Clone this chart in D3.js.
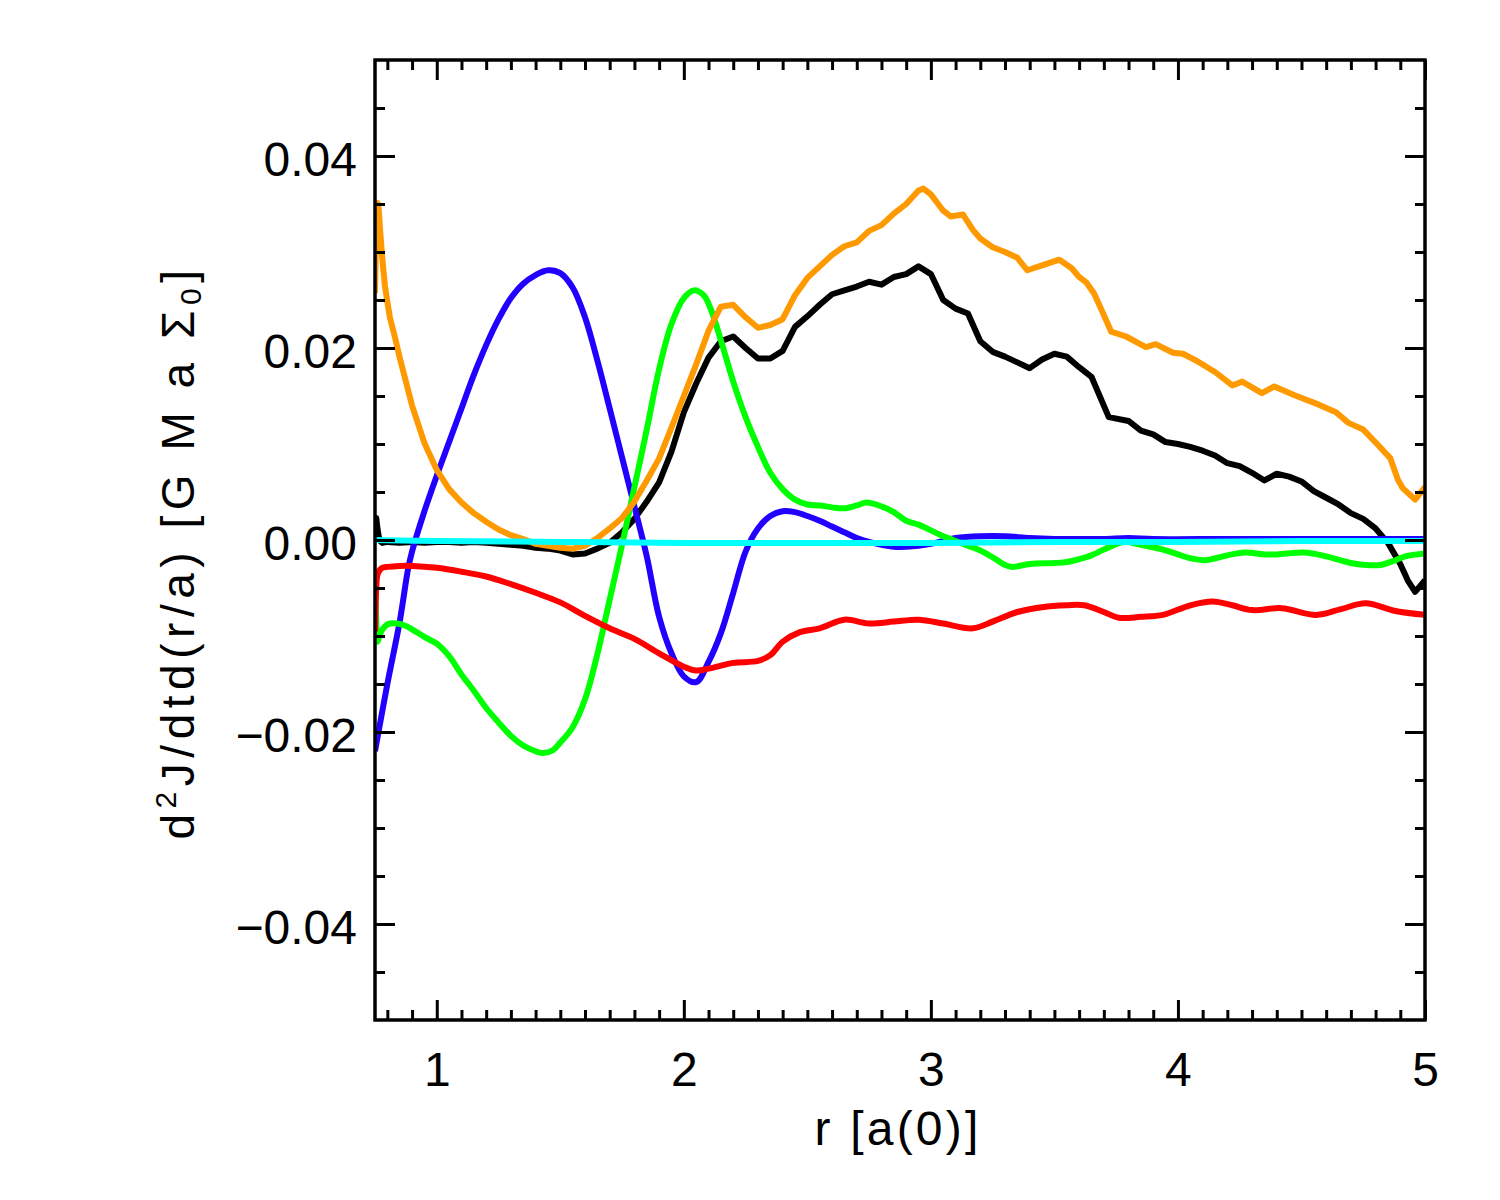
<!DOCTYPE html>
<html><head><meta charset="utf-8">
<script src="https://cdn.jsdelivr.net/npm/d3@7"></script>
<style>body{margin:0;background:#fff}</style>
</head><body>
<svg id="c" width="1500" height="1200"></svg>
<script>
// ---------- data ----------
const xDomain = [0.75, 5];
const yDomain = [-0.05, 0.05];
const xMajor = [1, 2, 3, 4, 5];
const xTickLabels = ["1", "2", "3", "4", "5"];
const yMajor = [-0.04, -0.02, 0, 0.02, 0.04];
const yTickLabels = ["\u22120.04", "\u22120.02", "0.00", "0.02", "0.04"];
const xTitle = "r [a(0)]";

const blackR = [0.75,0.755,0.76,0.765,0.77,0.78,0.8,0.85,0.9,0.95,1.0,1.05,1.1,1.15,1.2,1.25,1.3,1.35,1.4,1.45,1.5,1.55,1.6,1.65,1.7,1.75,1.8,1.85,1.9,1.95,2.0,2.05,2.1,2.15,2.2,2.25,2.3,2.35,2.4,2.45,2.5,2.55,2.6,2.65,2.7,2.75,2.8,2.85,2.9,2.95,3.0,3.05,3.1,3.15,3.2,3.25,3.3,3.35,3.4,3.45,3.5,3.55,3.6,3.65,3.7,3.72,3.8,3.85,3.9,3.95,4.0,4.05,4.1,4.15,4.2,4.25,4.3,4.35,4.4,4.45,4.5,4.55,4.6,4.65,4.7,4.75,4.8,4.85,4.9,4.93,4.96,5.0];
const blackY = [0.0005,0.0023,0.0012,0.0004,-0.0001,-0.0003,-0.0002,-0.0003,-0.0002,-0.0003,-0.0002,-0.0002,-0.0003,-0.0002,-0.0003,-0.0004,-0.0005,-0.0006,-0.0008,-0.0009,-0.0011,-0.0015,-0.0014,-0.0009,-0.0003,0.0008,0.0022,0.0040,0.0060,0.0092,0.0133,0.0163,0.0190,0.0207,0.0212,0.0200,0.0189,0.0189,0.0197,0.0222,0.0233,0.0245,0.0256,0.0260,0.0264,0.0269,0.0266,0.0274,0.0277,0.0285,0.0277,0.0250,0.0241,0.0236,0.0207,0.0196,0.0191,0.0185,0.0179,0.0188,0.0194,0.0191,0.0180,0.0170,0.0140,0.0128,0.0124,0.0114,0.0110,0.0102,0.0100,0.0097,0.0093,0.0088,0.0080,0.0077,0.0070,0.0062,0.0069,0.0066,0.0061,0.0051,0.0044,0.0037,0.0028,0.0022,0.0012,-0.0003,-0.0025,-0.0042,-0.0054,-0.0042];

const blueR = [0.75,0.8,0.85,0.884,0.9,0.95,1.0,1.05,1.1,1.15,1.2,1.25,1.3,1.35,1.4,1.45,1.5,1.55,1.6,1.65,1.7,1.75,1.8,1.85,1.9,1.95,2.0,2.05,2.1,2.15,2.2,2.25,2.3,2.35,2.4,2.45,2.5,2.55,2.6,2.65,2.7,2.75,2.8,2.85,2.9,2.95,3.0,3.05,3.1,3.2,3.3,3.4,3.5,3.6,3.7,3.8,3.9,4.2,4.6,5.0];
const blueY = [-0.0220,-0.0150,-0.0085,-0.0030,-0.0012,0.0030,0.0067,0.0102,0.0137,0.0172,0.0203,0.0230,0.0252,0.0267,0.0276,0.0281,0.0278,0.0263,0.0232,0.0187,0.0137,0.0086,0.0035,-0.0017,-0.0080,-0.0118,-0.0142,-0.0148,-0.0127,-0.0097,-0.0055,-0.0012,0.0012,0.0025,0.0030,0.0029,0.0025,0.0020,0.0014,0.0008,0.0002,-0.0002,-0.0005,-0.0007,-0.0007,-0.0006,-0.0004,-0.0001,0.0002,0.0004,0.0004,0.0002,0.0001,0.0001,0.0001,0.0002,0.0001,0.0001,0.0001,0.0001];

const greenR = [0.75,0.755,0.76,0.77,0.79,0.81,0.84,0.87,0.9,0.95,1.0,1.05,1.1,1.15,1.2,1.25,1.3,1.35,1.4,1.43,1.47,1.5,1.55,1.6,1.65,1.7,1.75,1.8,1.85,1.9,1.95,2.0,2.04,2.08,2.11,2.15,2.2,2.25,2.3,2.35,2.4,2.45,2.5,2.55,2.6,2.65,2.7,2.74,2.8,2.85,2.9,2.95,3.0,3.05,3.1,3.15,3.2,3.25,3.3,3.33,3.4,3.5,3.55,3.6,3.65,3.7,3.78,3.85,3.94,4.0,4.05,4.11,4.2,4.27,4.35,4.4,4.51,4.6,4.7,4.76,4.82,4.87,4.92,5.0];
const greenY = [-0.0045,-0.0085,-0.0106,-0.0098,-0.0090,-0.0087,-0.0087,-0.0089,-0.0093,-0.0101,-0.0108,-0.0121,-0.0140,-0.0157,-0.0175,-0.0190,-0.0204,-0.0214,-0.0220,-0.0222,-0.0219,-0.0211,-0.0195,-0.0166,-0.0119,-0.0062,-0.0005,0.0055,0.0115,0.0178,0.0225,0.0252,0.0260,0.0255,0.0240,0.0208,0.0165,0.0128,0.0097,0.0070,0.0053,0.0042,0.0037,0.0036,0.0034,0.0033,0.0036,0.0039,0.0035,0.0029,0.0020,0.0016,0.0010,0.0004,-0.0001,-0.0006,-0.0011,-0.0018,-0.0026,-0.0028,-0.0025,-0.0024,-0.0023,-0.0020,-0.0016,-0.0010,-0.0002,-0.0005,-0.0010,-0.0015,-0.0019,-0.0021,-0.0016,-0.0013,-0.0015,-0.0015,-0.0013,-0.0017,-0.0024,-0.0026,-0.0026,-0.0022,-0.0017,-0.0014];

const orangeR = [0.75,0.755,0.76,0.765,0.77,0.78,0.79,0.8,0.81,0.83,0.85,0.875,0.9,0.95,1.0,1.05,1.1,1.15,1.2,1.25,1.3,1.35,1.4,1.45,1.5,1.55,1.6,1.65,1.7,1.75,1.8,1.85,1.9,1.95,2.0,2.05,2.1,2.15,2.2,2.25,2.3,2.35,2.4,2.45,2.5,2.55,2.6,2.65,2.7,2.75,2.8,2.85,2.9,2.95,2.97,3.0,3.05,3.08,3.13,3.17,3.2,3.25,3.3,3.35,3.39,3.45,3.52,3.57,3.6,3.63,3.66,3.69,3.73,3.79,3.87,3.91,3.98,4.02,4.08,4.15,4.22,4.26,4.34,4.39,4.47,4.57,4.64,4.69,4.75,4.81,4.86,4.89,4.91,4.96,5.0];
const orangeY = [0.0257,0.0330,0.0351,0.0345,0.0325,0.0292,0.0265,0.0248,0.0232,0.0212,0.0190,0.0165,0.0140,0.0101,0.0073,0.0053,0.0039,0.0028,0.0019,0.0011,0.0005,0.0001,-0.0004,-0.0006,-0.0008,-0.0009,-0.0006,0.0002,0.0012,0.0023,0.0040,0.0062,0.0085,0.0117,0.0150,0.0183,0.0218,0.0243,0.0245,0.0232,0.0221,0.0224,0.0230,0.0255,0.0273,0.0285,0.0297,0.0306,0.0310,0.0322,0.0328,0.0340,0.0350,0.0364,0.0366,0.0360,0.0343,0.0337,0.0339,0.0323,0.0314,0.0305,0.0300,0.0294,0.0281,0.0286,0.0292,0.0283,0.0274,0.0268,0.0257,0.0240,0.0217,0.0212,0.0201,0.0204,0.0195,0.0194,0.0186,0.0175,0.0161,0.0165,0.0153,0.0160,0.0151,0.0141,0.0133,0.0122,0.0115,0.0099,0.0085,0.0063,0.0054,0.0042,0.0055];

const redR = [0.75,0.755,0.76,0.77,0.78,0.8,0.85,0.9,1.0,1.1,1.2,1.3,1.4,1.5,1.6,1.7,1.8,1.9,2.0,2.05,2.1,2.2,2.3,2.35,2.4,2.47,2.55,2.65,2.75,2.85,2.95,3.05,3.17,3.25,3.35,3.45,3.55,3.62,3.7,3.76,3.85,3.94,4.05,4.14,4.22,4.3,4.42,4.56,4.66,4.76,4.88,5.0];
const redY = [-0.0095,-0.0050,-0.0036,-0.0031,-0.0029,-0.0028,-0.0027,-0.0027,-0.0029,-0.0033,-0.0038,-0.0046,-0.0055,-0.0065,-0.0079,-0.0092,-0.0103,-0.0118,-0.0132,-0.0136,-0.0134,-0.0128,-0.0126,-0.0120,-0.0106,-0.0096,-0.0092,-0.0083,-0.0087,-0.0085,-0.0083,-0.0087,-0.0092,-0.0085,-0.0075,-0.0070,-0.0068,-0.0068,-0.0075,-0.0081,-0.0080,-0.0078,-0.0068,-0.0064,-0.0068,-0.0073,-0.0071,-0.0078,-0.0072,-0.0066,-0.0074,-0.0078];

const cyanR = [0.75,1.0,1.5,2.0,2.5,3.0,3.5,4.0,4.5,5.0];
const cyanY = [0.0000,-0.0001,-0.0002,-0.0003,-0.0003,-0.0003,-0.0002,-0.0002,-0.0001,-0.0001];

// ---------- layout ----------
const F = "'Liberation Sans', Arial, sans-serif";
const M = {l: 375, r: 1425, t: 60, b: 1020};
const svg = d3.select("#c");
svg.append("rect").attr("width", 1500).attr("height", 1200).attr("fill", "#fff");

const x = d3.scaleLinear().domain(xDomain).range([M.l, M.r]);
const y = d3.scaleLinear().domain(yDomain).range([M.b, M.t]);

svg.append("clipPath").attr("id", "clip").append("rect")
  .attr("x", M.l).attr("y", M.t).attr("width", M.r - M.l).attr("height", M.b - M.t);

const series = [
  {r: blackR, v: blackY, color: "#000000", smooth: false},
  {r: blueR, v: blueY, color: "#2200ff", smooth: true},
  {r: greenR, v: greenY, color: "#00ff00", smooth: true},
  {r: orangeR, v: orangeY, color: "#ff9900", smooth: false},
  {r: redR, v: redY, color: "#ff0000", smooth: true},
  {r: cyanR, v: cyanY, color: "#00ffff", smooth: true}
];

const plot = svg.append("g").attr("clip-path", "url(#clip)");
series.forEach(s => {
  const pts = s.r.map((r, i) => [r, s.v[i]]);
  const line = d3.line().x(d => x(d[0])).y(d => y(d[1]))
    .curve(s.smooth ? d3.curveCatmullRom.alpha(0.5) : d3.curveLinear);
  plot.append("path").datum(pts).attr("d", line)
    .attr("fill", "none").attr("stroke", s.color).attr("stroke-width", 6)
    .attr("stroke-linejoin", "round").attr("stroke-linecap", "butt");
});

// ---------- axes ----------
const xMinor = d3.range(8, 50).filter(i => i % 10 !== 0).map(i => i / 10);
const yMinor = d3.range(-9, 10).filter(i => i % 4 !== 0).map(i => i * 0.005);

function style(g) {
  g.select(".domain").remove();
  g.selectAll(".tick line").attr("stroke", "#000").attr("stroke-width", 3);
  g.selectAll(".tick text").attr("font-family", F).attr("font-size", 48).attr("fill", "#000");
}
// bottom
svg.append("g").attr("transform", `translate(0,${M.b})`)
  .call(d3.axisBottom(x).tickValues(xMajor).tickSize(-20).tickPadding(32).tickFormat((d, i) => xTickLabels[i])).call(style);
svg.append("g").attr("transform", `translate(0,${M.b})`)
  .call(d3.axisBottom(x).tickValues(xMinor).tickSize(-10).tickFormat("")).call(style);
// top
svg.append("g").attr("transform", `translate(0,${M.t})`)
  .call(d3.axisTop(x).tickValues(xMajor).tickSize(-20).tickFormat("")).call(style);
svg.append("g").attr("transform", `translate(0,${M.t})`)
  .call(d3.axisTop(x).tickValues(xMinor).tickSize(-10).tickFormat("")).call(style);
// left
const gl = svg.append("g").attr("transform", `translate(${M.l},0)`)
  .call(d3.axisLeft(y).tickValues(yMajor).tickSize(-20).tickPadding(18).tickFormat((d, i) => yTickLabels[i])).call(style);
gl.selectAll(".tick text").attr("dy", "0.4em");
svg.append("g").attr("transform", `translate(${M.l},0)`)
  .call(d3.axisLeft(y).tickValues(yMinor).tickSize(-10).tickFormat("")).call(style);
// right
svg.append("g").attr("transform", `translate(${M.r},0)`)
  .call(d3.axisRight(y).tickValues(yMajor).tickSize(-20).tickFormat("")).call(style);
svg.append("g").attr("transform", `translate(${M.r},0)`)
  .call(d3.axisRight(y).tickValues(yMinor).tickSize(-10).tickFormat("")).call(style);

// frame
svg.append("rect").attr("x", M.l).attr("y", M.t).attr("width", M.r - M.l).attr("height", M.b - M.t)
  .attr("fill", "none").attr("stroke", "#000").attr("stroke-width", 3.5);

// ---------- titles ----------
function fit(sel, target) {
  const nat = sel.node().getComputedTextLength();
  const n = sel.text().length;
  sel.attr("letter-spacing", ((target - nat) / n).toFixed(2));
}
const xt = svg.append("text").attr("x", 898).attr("y", 1145).attr("text-anchor", "middle")
  .attr("font-family", F).attr("font-size", 48).attr("fill", "#000").text(xTitle);
fit(xt, 167);

const yt = svg.append("text").attr("transform", "translate(194,552) rotate(-90)")
  .attr("text-anchor", "middle").attr("font-family", F).attr("font-size", 46).attr("fill", "#000");
yt.append("tspan").text("d");
yt.append("tspan").attr("font-size", 30).attr("dy", -18).text("2");
yt.append("tspan").attr("dy", 18).text("J/dtd(r/a) [G M a \u03A3");
yt.append("tspan").attr("font-size", 30).attr("dy", 7).text("0");
yt.append("tspan").attr("dy", -7).text("]");
fit(yt, 575);
</script>
</body></html>
